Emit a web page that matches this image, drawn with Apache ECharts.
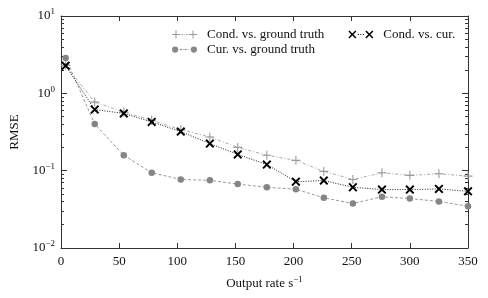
<!DOCTYPE html>
<html>
<head>
<meta charset="utf-8">
<script src="https://cdn.jsdelivr.net/npm/echarts@6/dist/echarts.min.js"></script>
<style>html,body{margin:0;padding:0;background:#fff;}#c{width:488px;height:298px;}</style>
</head>
<body>
<div id="c"></div>
<script>
// ---- data ----
const outputRate = [4, 29, 54, 78, 103, 128, 152, 177, 202, 226, 251, 276, 300, 325, 350];
const condVsGroundTruth = [2.3, 0.77, 0.575, 0.448, 0.34, 0.273, 0.2, 0.158, 0.136, 0.098, 0.077, 0.094, 0.087, 0.091, 0.085];
const curVsGroundTruth = [2.87, 0.40, 0.158, 0.094, 0.077, 0.075, 0.067, 0.061, 0.0575, 0.0446, 0.0376, 0.046, 0.0436, 0.040, 0.0347];
const condVsCur = [2.28, 0.616, 0.55, 0.427, 0.32, 0.224, 0.162, 0.12, 0.072, 0.0745, 0.061, 0.057, 0.057, 0.058, 0.054];
const xTicks = [0, 50, 100, 150, 200, 250, 300, 350];
const yMajorTicks = [0.01, 0.1, 1, 10];
const yMinorTicks = [];
[0.01, 0.1, 1].forEach(d => { for (let k = 2; k <= 9; k++) yMinorTicks.push(+(d * k).toPrecision(3)); });

const FONT = 'Liberation Serif';
const pairs = arr => outputRate.map((x, i) => [x, arr[i]]);

const plusSym = 'path://M0,4.4H10V5.6H0Z M4.4,0H5.6V10H4.4Z';
const crossSym = 'path://M0,1.5L1.5,0L5,3.5L8.5,0L10,1.5L6.5,5L10,8.5L8.5,10L5,6.5L1.5,10L0,8.5L3.5,5Z';
const plusIcon = 'path://M0,3.5H8V4.5H0Z M3.5,0H4.5V8H3.5Z M17,3.5H25V4.5H17Z M20.5,0H21.5V8H20.5Z M9.5,3.6H11V4.4H9.5Z M12.2,3.6H12.8V4.4H12.2Z M14,3.6H15.5V4.4H14Z';
const crossIcon = 'path://M0,1.1L1.1,0L4,2.9L6.9,0L8,1.1L5.1,4L8,6.9L6.9,8L4,5.1L1.1,8L0,6.9L2.9,4Z M17,1.1L18.1,0L21,2.9L23.9,0L25,1.1L22.1,4L25,6.9L23.9,8L21,5.1L18.1,8L17,6.9L19.9,4Z M9.5,3.6H10.5V4.4H9.5Z M12,3.6H13V4.4H12Z M14.5,3.6H15.5V4.4H14.5Z';
const circleIcon = 'path://M0.5,4A3,3 0 1,0 6.5,4A3,3 0 1,0 0.5,4Z M18.5,4A3,3 0 1,0 24.5,4A3,3 0 1,0 18.5,4Z M8,3.6H10V4.4H8Z M11,3.6H11.6V4.4H11Z M12.6,3.6H14.6V4.4H12.6Z M15.6,3.6H16.2V4.4H15.6Z';

const axisLineStyle = { color: '#333', width: 1 };
const supRich = { b: { fontFamily: FONT, fontSize: 13, color: '#111' }, s: { fontFamily: FONT, fontSize: 9, color: '#111', padding: [0, 0, 8, 0] } };

function yAxisCfg(pos, minor) {
  return {
    type: 'log', logBase: 10, min: 0.01, max: 10, position: pos,
    axisLine: { show: !minor, onZero: false, lineStyle: axisLineStyle },
    axisTick: { show: true, inside: true, length: minor ? 3 : 6, lineStyle: axisLineStyle,
                customValues: minor ? yMinorTicks : yMajorTicks },
    axisLabel: { show: !minor && pos === 'left', margin: 6, customValues: yMajorTicks,
      formatter: v => '{b|10}{s|' + String(Math.round(Math.log10(v))).replace('-', '−') + '}', rich: supRich },
    splitLine: { show: false }, minorTick: { show: false },
    name: (!minor && pos === 'left') ? 'RMSE' : '', nameLocation: 'middle', nameGap: 40,
    nameTextStyle: { fontFamily: FONT, fontSize: 13, color: '#111' }
  };
}
function xAxisCfg(pos) {
  return {
    type: 'value', min: 0, max: 350, interval: 50, position: pos,
    axisLine: { onZero: false, lineStyle: axisLineStyle },
    axisTick: { inside: true, length: 5, lineStyle: axisLineStyle, customValues: xTicks },
    axisLabel: { show: pos === 'bottom', margin: 7, fontFamily: FONT, fontSize: 13, color: '#111', customValues: xTicks },
    splitLine: { show: false },
    name: pos === 'bottom' ? '{b|Output rate s}{s|−1}' : '', nameLocation: 'middle', nameGap: 27,
    nameTextStyle: { rich: supRich }
  };
}

const chart = echarts.init(document.getElementById('c'), null, { renderer: 'canvas' });
chart.setOption({
  animation: false,
  backgroundColor: '#fff',
  grid: { left: 61, right: 20, top: 16, bottom: 50, containLabel: false },
  xAxis: [xAxisCfg('bottom'), xAxisCfg('top')],
  yAxis: [yAxisCfg('left', false), yAxisCfg('left', true), yAxisCfg('right', false), yAxisCfg('right', true)],
  legend: [
    { left: 172, top: 28, padding: 0, itemGap: 24, itemWidth: 25, itemHeight: 8,
      textStyle: { fontFamily: FONT, fontSize: 13, color: '#111', padding: [0, 0, 0, 5] },
      data: [
        { name: 'Cond. vs. ground truth', icon: plusIcon, itemStyle: { color: '#999', borderWidth: 0 } },
        { name: 'Cond. vs. cur.', icon: crossIcon, itemStyle: { color: '#000', borderWidth: 0 } }
      ] },
    { left: 172, top: 43, padding: 0, itemWidth: 25, itemHeight: 7,
      textStyle: { fontFamily: FONT, fontSize: 13, color: '#111', padding: [0, 0, 0, 5] },
      data: [ { name: 'Cur. vs. ground truth', icon: circleIcon, itemStyle: { color: '#888', borderWidth: 0 } } ] }
  ],
  series: [
    { name: 'Cond. vs. ground truth', type: 'line', xAxisIndex: 0, yAxisIndex: 0, data: pairs(condVsGroundTruth),
      symbol: plusSym, symbolSize: 9, itemStyle: { color: '#9a9a9a', borderWidth: 0 },
      lineStyle: { color: '#aaa', width: 1, type: [3, 2, 1, 2] }, z: 2 },
    { name: 'Cur. vs. ground truth', type: 'line', xAxisIndex: 0, yAxisIndex: 0, data: pairs(curVsGroundTruth),
      symbol: 'circle', symbolSize: 6.5, itemStyle: { color: '#858585', borderWidth: 0 },
      lineStyle: { color: '#999', width: 1, type: [3, 2] }, z: 3 },
    { name: 'Cond. vs. cur.', type: 'line', xAxisIndex: 0, yAxisIndex: 0, data: pairs(condVsCur),
      symbol: crossSym, symbolSize: 9, itemStyle: { color: '#000', borderWidth: 0 },
      lineStyle: { color: '#222', width: 1, type: [1, 1.5] }, z: 4 }
  ]
});
</script>
</body>
</html>
